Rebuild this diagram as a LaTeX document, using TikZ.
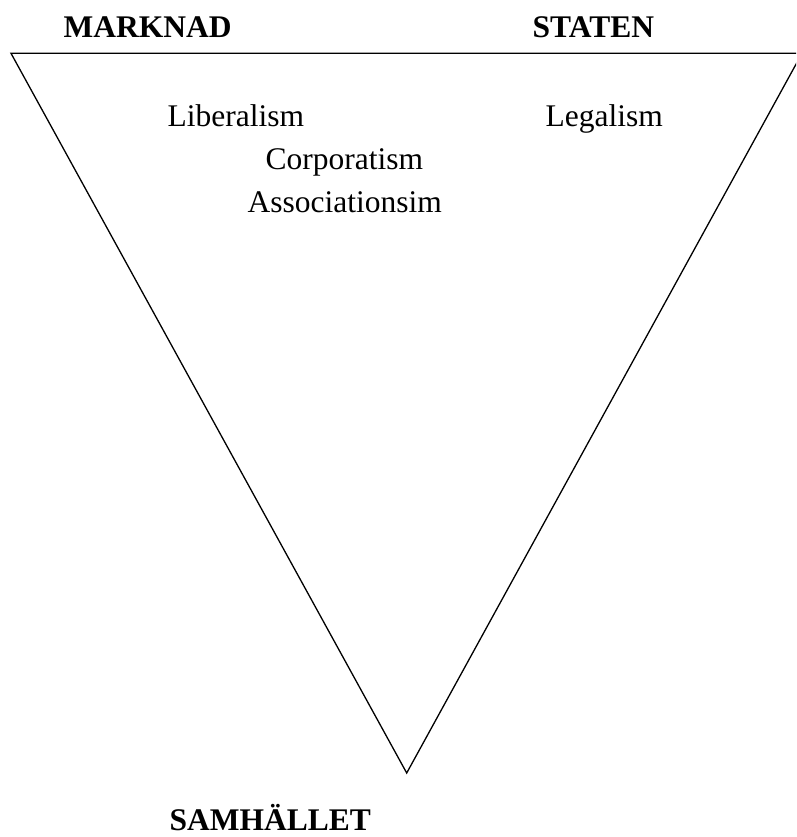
\documentclass[tikz,border=0pt]{standalone}
\usepackage{fontspec}
\setmainfont{Liberation Serif}
\usepackage{tikz}
\usetikzlibrary{calc}

\begin{document}
\begin{tikzpicture}[x=1pt, y=-1pt, line width=1.3pt,
                        txt/.style={inner sep=0pt, anchor=base west, font=\fontsize{31.5}{38}\selectfont},
                        hdr/.style={txt, font=\fontsize{31.5}{38}\selectfont\bfseries}]
                        \useasboundingbox (0,0) rectangle (796,837);
                        \begin{scope}
                        \clip (0,0) rectangle (796,837);
                        \coordinate (tl) at (11,53.3);
                        \coordinate (tr) at (802,53.3);
                        \coordinate (bt) at (406.7,773);
                        \draw (tl) -- (tr) -- (bt) -- cycle;
                        \end{scope}
                        \node[hdr] (marknad) at (63,37.7) {MARKNAD};
                        \node[hdr] (staten) at (532,37.7) {STATEN};
                        \node[hdr] (samhallet) at (169,830.5) {SAMHÄLLET};
                        \node[txt] (liberalism) at (167,126.7) {Liberalism};
                        \node[txt] (legalism) at (545,126.7) {Legalism};
                        \node[txt] (corporatism) at (265,169.5) {Corporatism};
                        \node[txt] (association) at (247,212.5) {Associationsim};
                \end{tikzpicture}
\end{document}
